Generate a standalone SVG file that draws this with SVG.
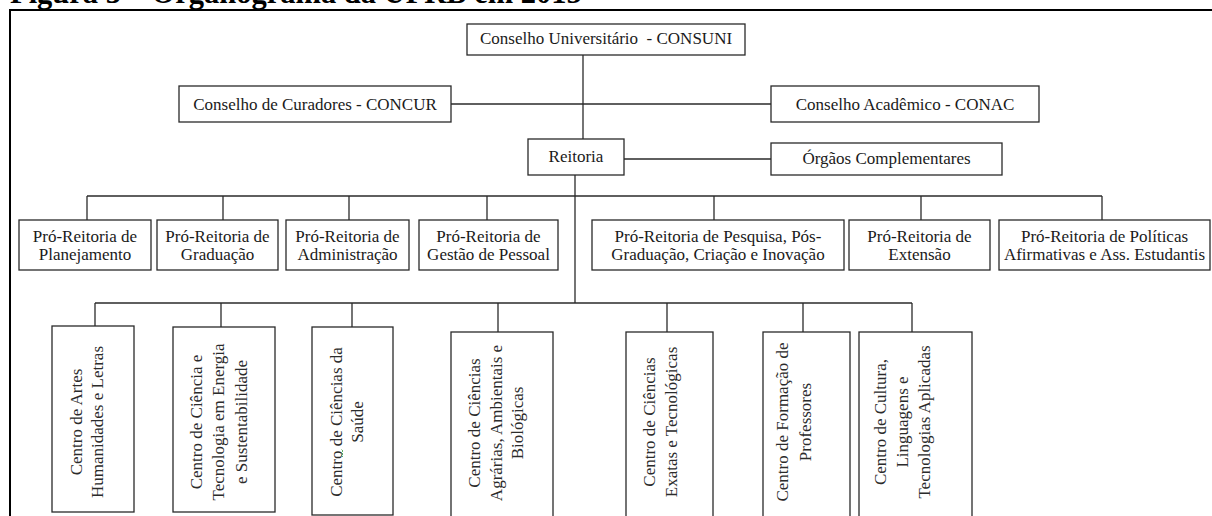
<svg xmlns="http://www.w3.org/2000/svg" width="1212" height="516" viewBox="0 0 1212 516">
<style>
.bg{fill:#ffffff}
.frame{fill:none;stroke:#000;stroke-width:2}
.box{fill:#fff;stroke:#2a2a2a;stroke-width:1.3}
.ln{fill:none;stroke:#2a2a2a;stroke-width:1.3}
.t{font-family:"Liberation Serif","Times New Roman",serif;font-size:17px;fill:#1a1a1a;text-anchor:middle}
.v{font-family:"Liberation Serif","Times New Roman",serif;font-size:17px;fill:#2b2b2b;text-anchor:middle}
.title{font-family:"Liberation Serif","Times New Roman",serif;font-size:30.5px;font-weight:bold;fill:#000}
</style>
<rect class="bg" x="0" y="0" width="1212" height="516"/>
<text class="title" x="10" y="3">Figura 3 – Organograma da UFRB em 2015</text>
<path class="frame" d="M10,520 V10 H1212"/>

<g id="connectors">
<line class="ln" x1="583" y1="55" x2="583" y2="139"/>
<line class="ln" x1="451" y1="104" x2="771" y2="104"/>
<line class="ln" x1="624" y1="159" x2="771" y2="159"/>
<line class="ln" x1="575" y1="175" x2="575" y2="303"/>
<line class="ln" x1="87" y1="196" x2="1102" y2="196"/>
<line class="ln" x1="87" y1="196" x2="87" y2="220"/>
<line class="ln" x1="223" y1="196" x2="223" y2="220"/>
<line class="ln" x1="349" y1="196" x2="349" y2="220"/>
<line class="ln" x1="487" y1="196" x2="487" y2="220"/>
<line class="ln" x1="714" y1="196" x2="714" y2="220"/>
<line class="ln" x1="921" y1="196" x2="921" y2="220"/>
<line class="ln" x1="1102" y1="196" x2="1102" y2="220"/>
<line class="ln" x1="95" y1="303" x2="912" y2="303"/>
<line class="ln" x1="95" y1="303" x2="95" y2="326"/>
<line class="ln" x1="221" y1="303" x2="221" y2="327"/>
<line class="ln" x1="352" y1="303" x2="352" y2="327"/>
<line class="ln" x1="498" y1="303" x2="498" y2="332"/>
<line class="ln" x1="667" y1="303" x2="667" y2="332"/>
<line class="ln" x1="803" y1="303" x2="803" y2="332"/>
<line class="ln" x1="912" y1="303" x2="912" y2="332"/>
</g>

<g id="consuni"><rect class="box" x="467" y="24" width="278" height="31"/><text class="t" x="606" y="44" xml:space="preserve">Conselho Universitário  - CONSUNI</text></g>
<g id="concur"><rect class="box" x="179" y="86" width="272" height="36"/><text class="t" x="315" y="109.5">Conselho de Curadores - CONCUR</text></g>
<g id="conac"><rect class="box" x="771" y="86" width="268" height="36"/><text class="t" x="905" y="109.5">Conselho Acadêmico - CONAC</text></g>
<g id="reitoria"><rect class="box" x="528" y="139" width="96" height="36"/><text class="t" x="576" y="162">Reitoria</text></g>
<g id="orgaos"><rect class="box" x="771" y="143" width="231" height="32"/><text class="t" x="886.5" y="164">Órgãos Complementares</text></g>

<g id="pr-planejamento"><rect class="box" x="19" y="220" width="132" height="50"/><text class="t" x="85" y="241.5">Pró-Reitoria de</text><text class="t" x="85" y="259.5">Planejamento</text></g>
<g id="pr-graduacao"><rect class="box" x="157" y="220" width="121" height="50"/><text class="t" x="217.5" y="241.5">Pró-Reitoria de</text><text class="t" x="217.5" y="259.5">Graduação</text></g>
<g id="pr-administracao"><rect class="box" x="286" y="220" width="123" height="50"/><text class="t" x="347.5" y="241.5">Pró-Reitoria de</text><text class="t" x="347.5" y="259.5">Administração</text></g>
<g id="pr-pessoal"><rect class="box" x="419" y="220" width="139" height="50"/><text class="t" x="488.5" y="241.5">Pró-Reitoria de</text><text class="t" x="488.5" y="259.5">Gestão de Pessoal</text></g>
<g id="pr-pesquisa"><rect class="box" x="592" y="220" width="252" height="50"/><text class="t" x="718" y="241.5">Pró-Reitoria de Pesquisa, Pós-</text><text class="t" x="718" y="259.5">Graduação, Criação e Inovação</text></g>
<g id="pr-extensao"><rect class="box" x="849" y="220" width="141" height="50"/><text class="t" x="919.5" y="241.5">Pró-Reitoria de</text><text class="t" x="919.5" y="259.5">Extensão</text></g>
<g id="pr-politicas"><rect class="box" x="999" y="220" width="211" height="50"/><text class="t" x="1104.5" y="241.5">Pró-Reitoria de Políticas</text><text class="t" x="1104.5" y="259.5">Afirmativas e Ass. Estudantis</text></g>

<g id="c-artes"><rect class="box" x="52" y="326" width="82" height="186"/>
<text class="v" transform="translate(82,422) rotate(-90)">Centro de Artes</text>
<text class="v" transform="translate(103,422) rotate(-90)">Humanidades e Letras</text></g>
<g id="c-energia"><rect class="box" x="173" y="327" width="102" height="185"/>
<text class="v" transform="translate(202,422) rotate(-90)">Centro de Ciência e</text>
<text class="v" transform="translate(224,422) rotate(-90)">Tecnologia em Energia</text>
<text class="v" transform="translate(247,422) rotate(-90)">e Sustentabilidade</text></g>
<g id="c-saude"><rect class="box" x="312" y="327" width="81" height="188"/>
<text class="v" transform="translate(342,422) rotate(-90)">Centro de Ciências da</text>
<text class="v" transform="translate(363,422) rotate(-90)">Saúde</text>
<path d="M343,457 l-1.5,-1.5 l1.5,-1.5 l-1.5,-1.5 l1.5,-1.5 l-1.5,-1.5" fill="none" stroke="#3a9a3a" stroke-width="0.8"/></g>
<g id="c-agrarias"><rect class="box" x="451" y="332" width="102" height="190"/>
<text class="v" transform="translate(480,423) rotate(-90)">Centro de Ciências</text>
<text class="v" transform="translate(502,423) rotate(-90)">Agrárias, Ambientais e</text>
<text class="v" transform="translate(523,423) rotate(-90)">Biológicas</text></g>
<g id="c-exatas"><rect class="box" x="626" y="332" width="87" height="190"/>
<text class="v" transform="translate(655,422) rotate(-90)">Centro de Ciências</text>
<text class="v" transform="translate(677,422) rotate(-90)">Exatas e Tecnológicas</text></g>
<g id="c-professores"><rect class="box" x="763" y="332" width="87" height="190"/>
<text class="v" transform="translate(788,422) rotate(-90)">Centro de Formação de</text>
<text class="v" transform="translate(811,422) rotate(-90)">Professores</text></g>
<g id="c-cultura"><rect class="box" x="859" y="332" width="113" height="190"/>
<text class="v" transform="translate(886,422) rotate(-90)">Centro de Cultura,</text>
<text class="v" transform="translate(908,422) rotate(-90)">Linguagens e</text>
<text class="v" transform="translate(930,422) rotate(-90)">Tecnologias Aplicadas</text></g>
</svg>
